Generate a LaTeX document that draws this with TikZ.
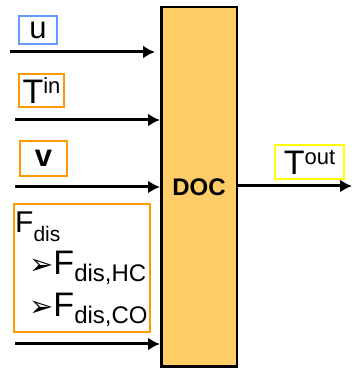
\documentclass[tikz,border=0pt]{standalone}
\usepackage{fontspec}
\setmainfont{Liberation Sans}
\newfontfamily\dingfont{DejaVu Sans}
\usetikzlibrary{arrows.meta}
\definecolor{docfill}{HTML}{FFCC66}
\definecolor{ublue}{HTML}{6699FF}
\definecolor{orng}{HTML}{FF9900}
\definecolor{ylw}{HTML}{FFFF00}
\newcommand{\fs}[1]{\fontsize{#1}{#1}\selectfont}
\newcommand{\hi}[1]{\raisebox{10pt}{\fs{22}#1}}
\newcommand{\lo}[3]{\raisebox{-#1pt}{\fs{#2}#3}}
\newcommand{\bul}{{\dingfont\fs{29}\char"27A2}}

\begin{document}
\begin{tikzpicture}[x=1pt,y=1pt,line join=miter,
  sig/.style={line width=3pt,-{Latex[length=12pt,width=13pt]}},
  lbl/.style={draw=#1,line width=2pt,inner sep=0pt,font=\fs{34}},
  item/.style={anchor=base west,inner sep=0pt}]
  \useasboundingbox (0,0) rectangle (352,372);
  % block
  \node[draw,line width=2.5pt,fill=docfill,minimum width=75.5,minimum height=359.5,
    font=\fs{24}\bfseries] (doc) at (199,185) {DOC};
  % input labels
  \node[lbl=ublue,minimum width=38,minimum height=28,font=\fs{31}] (ulbl) at (38,342) {u};
  \node[lbl=orng,minimum width=45,minimum height=33] (tinlbl) at (41.5,281.5) {T\hi{in}};
  \node[lbl=orng,minimum width=47,minimum height=35,font=\fs{31}\bfseries] (vlbl) at (43.5,213.5) {v};
  \node[lbl=orng,minimum width=136,minimum height=128] (flbl) at (82,104) {};
  \node[item,font=\fs{30}] (f1) at (15,139) {F\lo{9}{21}{dis}};
  \node[item,font=\fs{34}] (f2) at (29,97) {\bul F\lo{7}{24}{dis,HC}};
  \node[item,font=\fs{34}] (f3) at (29,55) {\bul F\lo{7}{24}{dis,CO}};
  % output label
  \node[lbl=ylw,minimum width=69,minimum height=34] (toutlbl) at (309.5,210) {T\hi{out}};
  % signals
  \coordinate (uin) at (10,320);
  \coordinate (tin) at (15,252);
  \coordinate (vin) at (15,185);
  \coordinate (fin) at (15,28);
  \coordinate (tout) at (352,186);
  \draw[sig] (uin) -- ([xshift=-5pt]uin -| doc.west);
  \draw[sig] (tin) -- (tin -| doc.west);
  \draw[sig] (vin) -- (vin -| doc.west);
  \draw[sig] (fin) -- (fin -| doc.west);
  \draw[sig] (tout -| doc.east) -- (tout);
\end{tikzpicture}
\end{document}
